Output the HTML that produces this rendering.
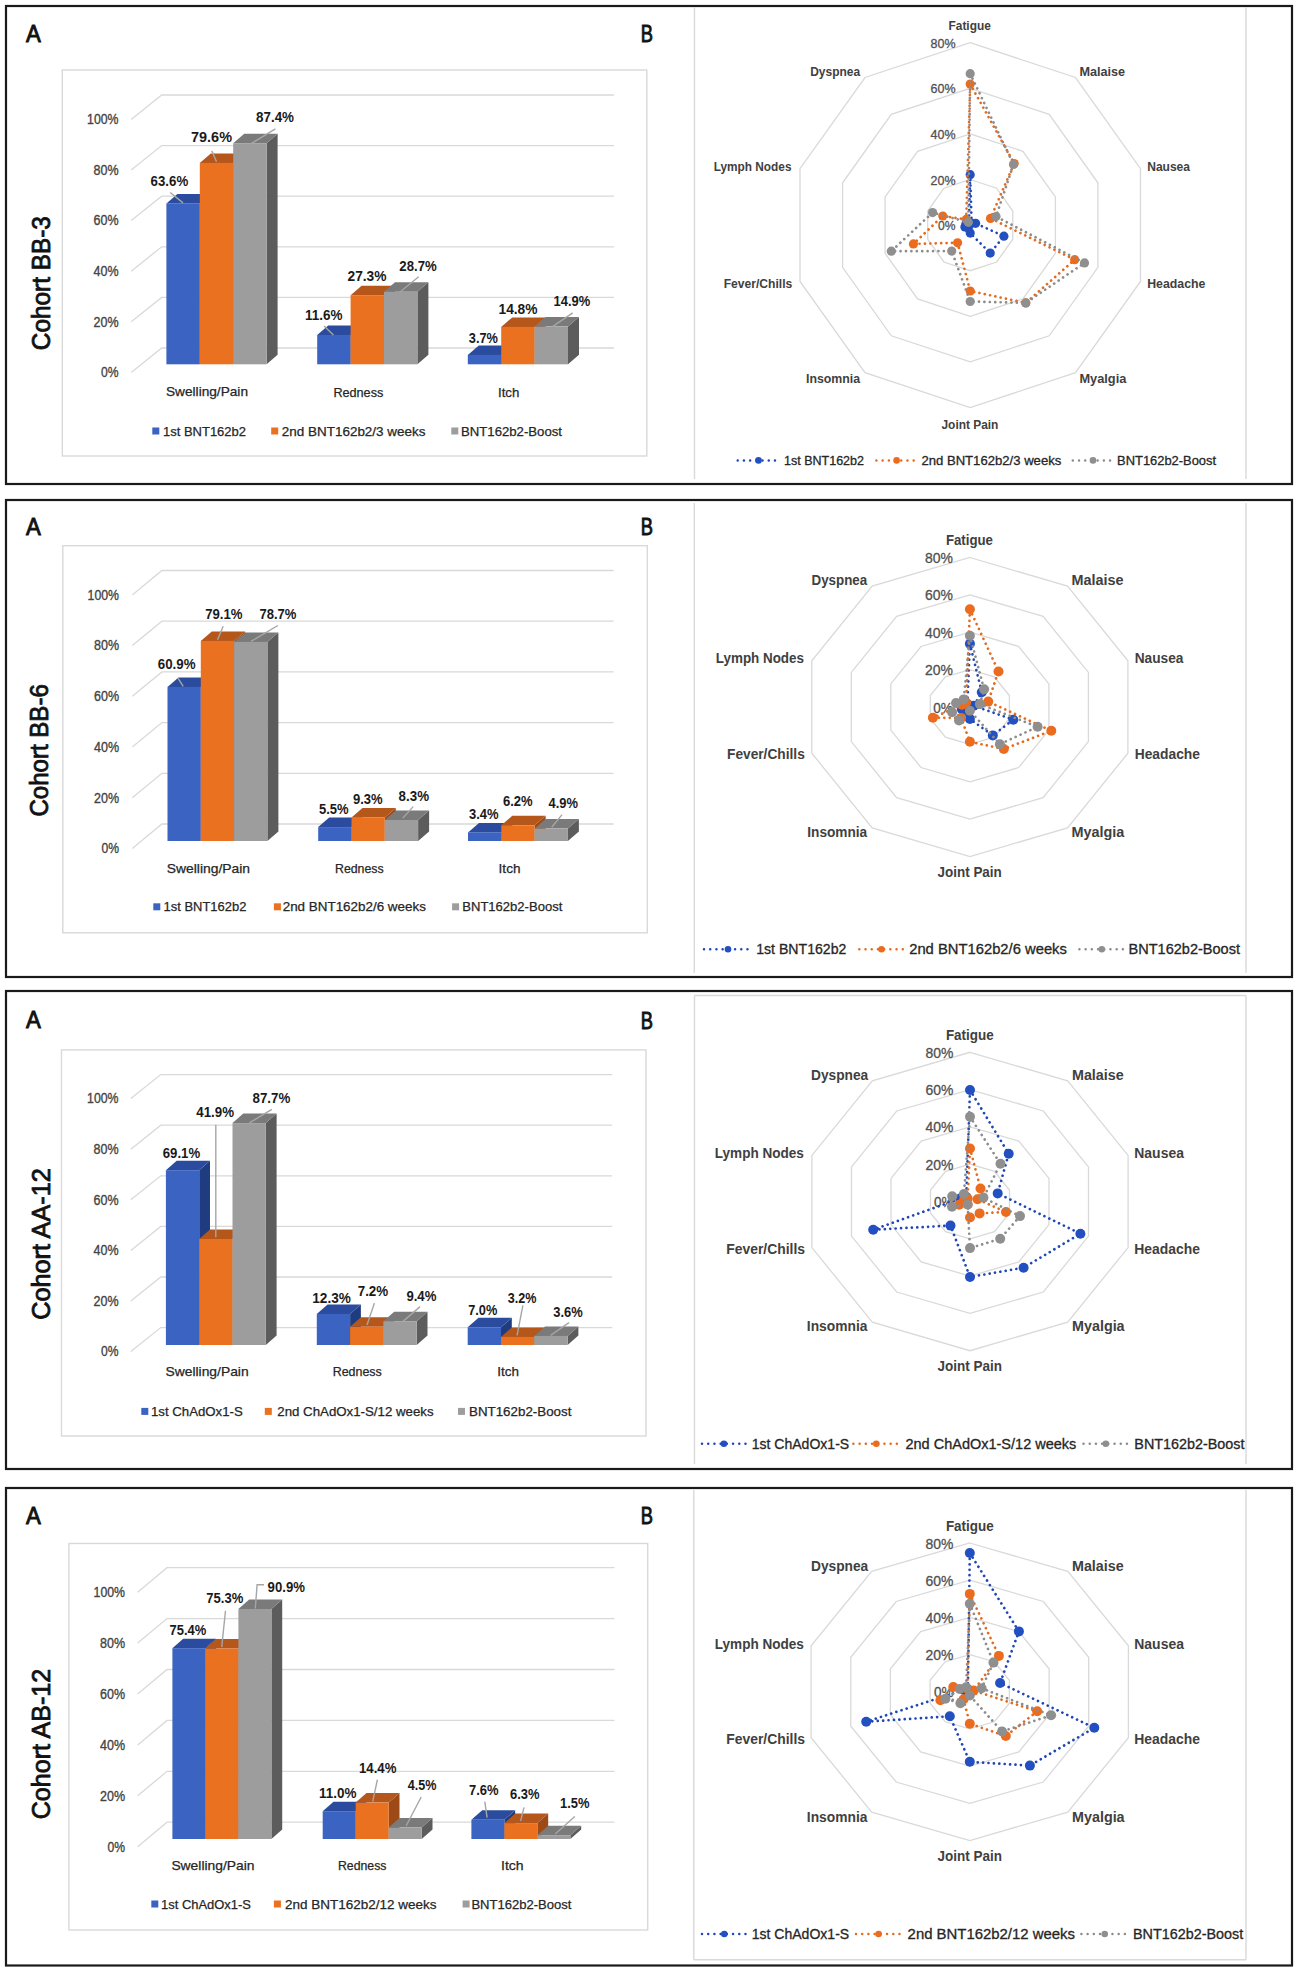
<!DOCTYPE html>
<html><head><meta charset="utf-8"><title>Figure</title>
<style>html,body{margin:0;padding:0;background:#fff;}svg{display:block;}text{font-family:"Liberation Sans",sans-serif;}</style>
</head><body>
<svg width="1298" height="1972" viewBox="0 0 1298 1972">
<rect x="0" y="0" width="1298" height="1972" fill="#fff"/>
<rect x="6" y="6.0" width="1286" height="478.0" fill="none" stroke="#1A1A1A" stroke-width="2.2"/>
<rect x="62.3" y="70.0" width="584.5" height="386.0" fill="none" stroke="#D9D9D9" stroke-width="1.4"/>
<line x1="694.5" y1="7.0" x2="694.5" y2="479.0" stroke="#D9D9D9" stroke-width="1.4"/>
<line x1="1246.0" y1="7.0" x2="1246.0" y2="479.0" stroke="#D9D9D9" stroke-width="1.4"/>
<text x="26.0" y="42.1" font-size="23.0" text-anchor="start" font-weight="normal" fill="#111" textLength="14.8" lengthAdjust="spacingAndGlyphs" stroke="#111" stroke-width="0.90">A</text>
<text x="640.8" y="41.9" font-size="23.0" text-anchor="start" font-weight="normal" fill="#111" textLength="12.2" lengthAdjust="spacingAndGlyphs" stroke="#111" stroke-width="0.90">B</text>
<polyline points="131.2,119.4 161.7,95.0 614.0,95.0" fill="none" stroke="#D9D9D9" stroke-width="1.3"/>
<text x="87.1" y="124.2" font-size="13.8" text-anchor="start" font-weight="normal" fill="#444444" textLength="31.4" lengthAdjust="spacingAndGlyphs" stroke="#444444" stroke-width="0.35">100%</text>
<polyline points="131.2,170.0 161.7,145.6 614.0,145.6" fill="none" stroke="#D9D9D9" stroke-width="1.3"/>
<text x="93.5" y="174.8" font-size="13.8" text-anchor="start" font-weight="normal" fill="#444444" textLength="25.0" lengthAdjust="spacingAndGlyphs" stroke="#444444" stroke-width="0.35">80%</text>
<polyline points="131.2,220.6 161.7,196.2 614.0,196.2" fill="none" stroke="#D9D9D9" stroke-width="1.3"/>
<text x="93.5" y="225.4" font-size="13.8" text-anchor="start" font-weight="normal" fill="#444444" textLength="25.0" lengthAdjust="spacingAndGlyphs" stroke="#444444" stroke-width="0.35">60%</text>
<polyline points="131.2,271.2 161.7,246.8 614.0,246.8" fill="none" stroke="#D9D9D9" stroke-width="1.3"/>
<text x="93.5" y="276.0" font-size="13.8" text-anchor="start" font-weight="normal" fill="#444444" textLength="25.0" lengthAdjust="spacingAndGlyphs" stroke="#444444" stroke-width="0.35">40%</text>
<polyline points="131.2,321.8 161.7,297.4 614.0,297.4" fill="none" stroke="#D9D9D9" stroke-width="1.3"/>
<text x="93.5" y="326.6" font-size="13.8" text-anchor="start" font-weight="normal" fill="#444444" textLength="25.0" lengthAdjust="spacingAndGlyphs" stroke="#444444" stroke-width="0.35">20%</text>
<polyline points="131.2,372.4 161.7,348.0 614.0,348.0" fill="none" stroke="#D9D9D9" stroke-width="1.3"/>
<text x="101.0" y="377.2" font-size="13.8" text-anchor="start" font-weight="normal" fill="#444444" textLength="17.5" lengthAdjust="spacingAndGlyphs" stroke="#444444" stroke-width="0.35">0%</text>
<polygon points="199.8,203.4 210.8,193.9 210.8,354.8 199.8,364.3" fill="#203C80"/>
<polygon points="166.4,203.4 177.4,193.9 210.8,193.9 199.8,203.4" fill="#2B4C9E"/>
<rect x="166.4" y="203.4" width="33.4" height="160.9" fill="#3A63C2"/>
<polygon points="233.2,162.9 244.2,153.4 244.2,354.8 233.2,364.3" fill="#9E4A16"/>
<polygon points="199.8,162.9 210.8,153.4 244.2,153.4 233.2,162.9" fill="#B5561B"/>
<rect x="199.8" y="162.9" width="33.4" height="201.4" fill="#E9711F"/>
<polygon points="266.6,143.2 277.6,133.7 277.6,354.8 266.6,364.3" fill="#5C5C5C"/>
<polygon points="233.2,143.2 244.2,133.7 277.6,133.7 266.6,143.2" fill="#7A7A7A"/>
<rect x="233.2" y="143.2" width="33.4" height="221.1" fill="#9D9D9D"/>
<polygon points="350.6,335.0 361.6,325.5 361.6,354.8 350.6,364.3" fill="#203C80"/>
<polygon points="317.2,335.0 328.2,325.5 361.6,325.5 350.6,335.0" fill="#2B4C9E"/>
<rect x="317.2" y="335.0" width="33.4" height="29.3" fill="#3A63C2"/>
<polygon points="384.0,295.2 395.0,285.7 395.0,354.8 384.0,364.3" fill="#9E4A16"/>
<polygon points="350.6,295.2 361.6,285.7 395.0,285.7 384.0,295.2" fill="#B5561B"/>
<rect x="350.6" y="295.2" width="33.4" height="69.1" fill="#E9711F"/>
<polygon points="417.4,291.7 428.4,282.2 428.4,354.8 417.4,364.3" fill="#5C5C5C"/>
<polygon points="384.0,291.7 395.0,282.2 428.4,282.2 417.4,291.7" fill="#7A7A7A"/>
<rect x="384.0" y="291.7" width="33.4" height="72.6" fill="#9D9D9D"/>
<polygon points="501.2,354.9 512.2,345.4 512.2,354.8 501.2,364.3" fill="#203C80"/>
<polygon points="467.8,354.9 478.8,345.4 512.2,345.4 501.2,354.9" fill="#2B4C9E"/>
<rect x="467.8" y="354.9" width="33.4" height="9.4" fill="#3A63C2"/>
<polygon points="534.6,326.9 545.6,317.4 545.6,354.8 534.6,364.3" fill="#9E4A16"/>
<polygon points="501.2,326.9 512.2,317.4 545.6,317.4 534.6,326.9" fill="#B5561B"/>
<rect x="501.2" y="326.9" width="33.4" height="37.4" fill="#E9711F"/>
<polygon points="568.0,326.6 579.0,317.1 579.0,354.8 568.0,364.3" fill="#5C5C5C"/>
<polygon points="534.6,326.6 545.6,317.1 579.0,317.1 568.0,326.6" fill="#7A7A7A"/>
<rect x="534.6" y="326.6" width="33.4" height="37.7" fill="#9D9D9D"/>
<polyline points="170.2,192.5 183.0,202.9" fill="none" stroke="#A6A6A6" stroke-width="1.4"/>
<polyline points="211.8,150.9 216.5,161.8" fill="none" stroke="#A6A6A6" stroke-width="1.4"/>
<polyline points="275.4,128.9 250.6,143.9" fill="none" stroke="#A6A6A6" stroke-width="1.4"/>
<polyline points="324.1,326.0 333.4,335.0" fill="none" stroke="#A6A6A6" stroke-width="1.4"/>
<polyline points="418.7,276.8 400.0,292.0" fill="none" stroke="#A6A6A6" stroke-width="1.4"/>
<polyline points="572.7,312.8 552.5,326.6" fill="none" stroke="#A6A6A6" stroke-width="1.4"/>
<text x="150.6" y="185.6" font-size="14.6" text-anchor="start" font-weight="bold" fill="#1A1A1A" textLength="37.6" lengthAdjust="spacingAndGlyphs">63.6%</text>
<text x="191.0" y="142.0" font-size="14.6" text-anchor="start" font-weight="bold" fill="#1A1A1A" textLength="41.0" lengthAdjust="spacingAndGlyphs">79.6%</text>
<text x="256.0" y="122.3" font-size="14.6" text-anchor="start" font-weight="bold" fill="#1A1A1A" textLength="38.0" lengthAdjust="spacingAndGlyphs">87.4%</text>
<text x="305.0" y="319.5" font-size="14.6" text-anchor="start" font-weight="bold" fill="#1A1A1A" textLength="37.5" lengthAdjust="spacingAndGlyphs">11.6%</text>
<text x="347.5" y="281.4" font-size="14.6" text-anchor="start" font-weight="bold" fill="#1A1A1A" textLength="39.0" lengthAdjust="spacingAndGlyphs">27.3%</text>
<text x="399.3" y="270.6" font-size="14.6" text-anchor="start" font-weight="bold" fill="#1A1A1A" textLength="37.4" lengthAdjust="spacingAndGlyphs">28.7%</text>
<text x="468.8" y="342.5" font-size="14.6" text-anchor="start" font-weight="bold" fill="#1A1A1A" textLength="29.1" lengthAdjust="spacingAndGlyphs">3.7%</text>
<text x="498.5" y="313.6" font-size="14.6" text-anchor="start" font-weight="bold" fill="#1A1A1A" textLength="39.0" lengthAdjust="spacingAndGlyphs">14.8%</text>
<text x="553.5" y="306.0" font-size="14.6" text-anchor="start" font-weight="bold" fill="#1A1A1A" textLength="36.7" lengthAdjust="spacingAndGlyphs">14.9%</text>
<text x="166.0" y="396.2" font-size="13.0" text-anchor="start" font-weight="normal" fill="#262626" textLength="82.0" lengthAdjust="spacingAndGlyphs" stroke="#262626" stroke-width="0.25">Swelling/Pain</text>
<text x="333.4" y="396.8" font-size="13.0" text-anchor="start" font-weight="normal" fill="#262626" textLength="49.9" lengthAdjust="spacingAndGlyphs" stroke="#262626" stroke-width="0.25">Redness</text>
<text x="498.0" y="396.8" font-size="13.0" text-anchor="start" font-weight="normal" fill="#262626" textLength="21.3" lengthAdjust="spacingAndGlyphs" stroke="#262626" stroke-width="0.25">Itch</text>
<rect x="152.3" y="427.5" width="7" height="7" fill="#3A63C2"/>
<text x="163.0" y="435.5" font-size="13.0" text-anchor="start" font-weight="normal" fill="#262626" textLength="83.0" lengthAdjust="spacingAndGlyphs" stroke="#262626" stroke-width="0.25">1st BNT162b2</text>
<rect x="271.2" y="427.5" width="7" height="7" fill="#E9711F"/>
<text x="281.8" y="435.5" font-size="13.0" text-anchor="start" font-weight="normal" fill="#262626" textLength="143.7" lengthAdjust="spacingAndGlyphs" stroke="#262626" stroke-width="0.25">2nd BNT162b2/3 weeks</text>
<rect x="451.3" y="427.5" width="7" height="7" fill="#9D9D9D"/>
<text x="461.0" y="435.5" font-size="13.0" text-anchor="start" font-weight="normal" fill="#262626" textLength="101.0" lengthAdjust="spacingAndGlyphs" stroke="#262626" stroke-width="0.25">BNT162b2-Boost</text>
<text transform="translate(50.4,283.2) rotate(-90)" font-size="25" text-anchor="middle" fill="#111" stroke="#111" stroke-width="0.8" textLength="134.0" lengthAdjust="spacingAndGlyphs">Cohort BB-3</text>
<polygon points="970.2,179.5 996.6,188.2 1012.8,211.0 1012.8,239.2 996.6,262.0 970.2,270.7 943.9,262.0 927.7,239.2 927.7,211.0 943.9,188.2" fill="none" stroke="#D9D9D9" stroke-width="1.3"/>
<polygon points="970.2,133.9 1022.9,151.3 1055.4,196.9 1055.4,253.3 1022.9,298.9 970.2,316.3 917.6,298.9 885.1,253.3 885.1,196.9 917.6,151.3" fill="none" stroke="#D9D9D9" stroke-width="1.3"/>
<polygon points="970.2,88.3 1049.2,114.4 1097.9,182.8 1097.9,267.4 1049.2,335.8 970.2,361.9 891.3,335.8 842.6,267.4 842.6,182.8 891.3,114.4" fill="none" stroke="#D9D9D9" stroke-width="1.3"/>
<polygon points="970.2,42.7 1075.5,77.5 1140.5,168.7 1140.5,281.5 1075.5,372.7 970.2,407.5 865.0,372.7 800.0,281.5 800.0,168.7 865.0,77.5" fill="none" stroke="#D9D9D9" stroke-width="1.3"/>
<text x="938.0" y="230.1" font-size="13.0" text-anchor="start" font-weight="normal" fill="#505050" textLength="17.5" lengthAdjust="spacingAndGlyphs" stroke="#505050" stroke-width="0.30">0%</text>
<text x="930.5" y="184.5" font-size="13.0" text-anchor="start" font-weight="normal" fill="#505050" textLength="25.0" lengthAdjust="spacingAndGlyphs" stroke="#505050" stroke-width="0.30">20%</text>
<text x="930.5" y="138.9" font-size="13.0" text-anchor="start" font-weight="normal" fill="#505050" textLength="25.0" lengthAdjust="spacingAndGlyphs" stroke="#505050" stroke-width="0.30">40%</text>
<text x="930.5" y="93.3" font-size="13.0" text-anchor="start" font-weight="normal" fill="#505050" textLength="25.0" lengthAdjust="spacingAndGlyphs" stroke="#505050" stroke-width="0.30">60%</text>
<text x="930.5" y="47.7" font-size="13.0" text-anchor="start" font-weight="normal" fill="#505050" textLength="25.0" lengthAdjust="spacingAndGlyphs" stroke="#505050" stroke-width="0.30">80%</text>
<text x="948.5" y="29.8" font-size="13.0" text-anchor="start" font-weight="bold" fill="#404040" textLength="42.3" lengthAdjust="spacingAndGlyphs">Fatigue</text>
<text x="1079.4" y="75.6" font-size="13.0" text-anchor="start" font-weight="bold" fill="#404040" textLength="45.7" lengthAdjust="spacingAndGlyphs">Malaise</text>
<text x="1147.2" y="171.3" font-size="13.0" text-anchor="start" font-weight="bold" fill="#404040" textLength="42.8" lengthAdjust="spacingAndGlyphs">Nausea</text>
<text x="1147.2" y="287.8" font-size="13.0" text-anchor="start" font-weight="bold" fill="#404040" textLength="58.2" lengthAdjust="spacingAndGlyphs">Headache</text>
<text x="1079.4" y="382.6" font-size="13.0" text-anchor="start" font-weight="bold" fill="#404040" textLength="47.0" lengthAdjust="spacingAndGlyphs">Myalgia</text>
<text x="941.5" y="429.0" font-size="13.0" text-anchor="start" font-weight="bold" fill="#404040" textLength="56.9" lengthAdjust="spacingAndGlyphs">Joint Pain</text>
<text x="806.0" y="382.6" font-size="13.0" text-anchor="start" font-weight="bold" fill="#404040" textLength="54.1" lengthAdjust="spacingAndGlyphs">Insomnia</text>
<text x="723.7" y="287.8" font-size="13.0" text-anchor="start" font-weight="bold" fill="#404040" textLength="68.6" lengthAdjust="spacingAndGlyphs">Fever/Chills</text>
<text x="713.7" y="171.3" font-size="13.0" text-anchor="start" font-weight="bold" fill="#404040" textLength="77.8" lengthAdjust="spacingAndGlyphs">Lymph Nodes</text>
<text x="810.2" y="75.6" font-size="13.0" text-anchor="start" font-weight="bold" fill="#404040" textLength="49.9" lengthAdjust="spacingAndGlyphs">Dyspnea</text>
<polygon points="970.2,174.7 971.6,223.3 975.6,223.3 1003.9,236.2 990.2,253.1 970.2,233.1 968.3,227.9 964.9,226.9 966.0,223.7 968.9,223.3" fill="none" stroke="#1F46B4" stroke-width="2.7" stroke-dasharray="0.01 5.4" stroke-linecap="round" stroke-linejoin="round"/>
<circle cx="970.2" cy="174.7" r="4.6" fill="#2250C0"/>
<circle cx="971.6" cy="223.3" r="4.6" fill="#2250C0"/>
<circle cx="975.6" cy="223.3" r="4.6" fill="#2250C0"/>
<circle cx="1003.9" cy="236.2" r="4.6" fill="#2250C0"/>
<circle cx="990.2" cy="253.1" r="4.6" fill="#2250C0"/>
<circle cx="970.2" cy="233.1" r="4.6" fill="#2250C0"/>
<circle cx="968.3" cy="227.9" r="4.6" fill="#2250C0"/>
<circle cx="964.9" cy="226.9" r="4.6" fill="#2250C0"/>
<circle cx="966.0" cy="223.7" r="4.6" fill="#2250C0"/>
<circle cx="968.9" cy="223.3" r="4.6" fill="#2250C0"/>
<polygon points="970.2,84.0 1014.2,163.5 990.5,218.4 1074.7,259.7 1025.8,302.9 970.2,291.0 957.6,242.8 913.4,243.9 942.8,216.0 966.2,219.4" fill="none" stroke="#E36A1E" stroke-width="2.7" stroke-dasharray="0.01 5.4" stroke-linecap="round" stroke-linejoin="round"/>
<circle cx="970.2" cy="84.0" r="4.6" fill="#EB6C1E"/>
<circle cx="1014.2" cy="163.5" r="4.6" fill="#EB6C1E"/>
<circle cx="990.5" cy="218.4" r="4.6" fill="#EB6C1E"/>
<circle cx="1074.7" cy="259.7" r="4.6" fill="#EB6C1E"/>
<circle cx="1025.8" cy="302.9" r="4.6" fill="#EB6C1E"/>
<circle cx="970.2" cy="291.0" r="4.6" fill="#EB6C1E"/>
<circle cx="957.6" cy="242.8" r="4.6" fill="#EB6C1E"/>
<circle cx="913.4" cy="243.9" r="4.6" fill="#EB6C1E"/>
<circle cx="942.8" cy="216.0" r="4.6" fill="#EB6C1E"/>
<circle cx="966.2" cy="219.4" r="4.6" fill="#EB6C1E"/>
<polygon points="970.2,73.7 1013.5,164.4 996.0,216.6 1084.5,262.9 1025.8,302.9 970.2,301.5 951.7,251.1 891.3,251.2 932.6,212.6 968.3,222.3" fill="none" stroke="#8C8C8C" stroke-width="2.7" stroke-dasharray="0.01 5.4" stroke-linecap="round" stroke-linejoin="round"/>
<circle cx="970.2" cy="73.7" r="4.6" fill="#8F8F8F"/>
<circle cx="1013.5" cy="164.4" r="4.6" fill="#8F8F8F"/>
<circle cx="996.0" cy="216.6" r="4.6" fill="#8F8F8F"/>
<circle cx="1084.5" cy="262.9" r="4.6" fill="#8F8F8F"/>
<circle cx="1025.8" cy="302.9" r="4.6" fill="#8F8F8F"/>
<circle cx="970.2" cy="301.5" r="4.6" fill="#8F8F8F"/>
<circle cx="951.7" cy="251.1" r="4.6" fill="#8F8F8F"/>
<circle cx="891.3" cy="251.2" r="4.6" fill="#8F8F8F"/>
<circle cx="932.6" cy="212.6" r="4.6" fill="#8F8F8F"/>
<circle cx="968.3" cy="222.3" r="4.6" fill="#8F8F8F"/>
<line x1="737.7" y1="460.4" x2="779.3" y2="460.4" stroke="#1F46B4" stroke-width="2.5" stroke-dasharray="0.01 6.2" stroke-linecap="round"/>
<circle cx="758.5" cy="460.4" r="3.3" fill="#2250C0"/>
<text x="784.0" y="464.9" font-size="13.0" text-anchor="start" font-weight="normal" fill="#262626" textLength="80.0" lengthAdjust="spacingAndGlyphs" stroke="#262626" stroke-width="0.30">1st BNT162b2</text>
<line x1="876.4" y1="460.4" x2="916.8" y2="460.4" stroke="#E36A1E" stroke-width="2.5" stroke-dasharray="0.01 6.2" stroke-linecap="round"/>
<circle cx="896.6" cy="460.4" r="3.3" fill="#EB6C1E"/>
<text x="921.4" y="464.9" font-size="13.0" text-anchor="start" font-weight="normal" fill="#262626" textLength="139.9" lengthAdjust="spacingAndGlyphs" stroke="#262626" stroke-width="0.30">2nd BNT162b2/3 weeks</text>
<line x1="1072.8" y1="460.4" x2="1113.3" y2="460.4" stroke="#8C8C8C" stroke-width="2.5" stroke-dasharray="0.01 6.2" stroke-linecap="round"/>
<circle cx="1093.0" cy="460.4" r="3.3" fill="#8F8F8F"/>
<text x="1117.1" y="464.9" font-size="13.0" text-anchor="start" font-weight="normal" fill="#262626" textLength="99.0" lengthAdjust="spacingAndGlyphs" stroke="#262626" stroke-width="0.30">BNT162b2-Boost</text>
<rect x="6" y="500.0" width="1286" height="477.0" fill="none" stroke="#1A1A1A" stroke-width="2.2"/>
<rect x="62.8" y="545.7" width="584.5" height="387.1" fill="none" stroke="#D9D9D9" stroke-width="1.4"/>
<line x1="694.3" y1="503.0" x2="694.3" y2="972.8" stroke="#D9D9D9" stroke-width="1.4"/>
<line x1="1246.0" y1="503.0" x2="1246.0" y2="972.8" stroke="#D9D9D9" stroke-width="1.4"/>
<text x="26.0" y="535.0" font-size="23.0" text-anchor="start" font-weight="normal" fill="#111" textLength="14.8" lengthAdjust="spacingAndGlyphs" stroke="#111" stroke-width="0.90">A</text>
<text x="640.8" y="535.1" font-size="23.0" text-anchor="start" font-weight="normal" fill="#111" textLength="12.2" lengthAdjust="spacingAndGlyphs" stroke="#111" stroke-width="0.90">B</text>
<polyline points="132.3,594.9 161.9,570.5 613.6,570.5" fill="none" stroke="#D9D9D9" stroke-width="1.3"/>
<text x="87.6" y="599.7" font-size="13.8" text-anchor="start" font-weight="normal" fill="#444444" textLength="31.4" lengthAdjust="spacingAndGlyphs" stroke="#444444" stroke-width="0.35">100%</text>
<polyline points="132.3,645.6 161.9,621.2 613.6,621.2" fill="none" stroke="#D9D9D9" stroke-width="1.3"/>
<text x="94.0" y="650.4" font-size="13.8" text-anchor="start" font-weight="normal" fill="#444444" textLength="25.0" lengthAdjust="spacingAndGlyphs" stroke="#444444" stroke-width="0.35">80%</text>
<polyline points="132.3,696.3 161.9,671.9 613.6,671.9" fill="none" stroke="#D9D9D9" stroke-width="1.3"/>
<text x="94.0" y="701.1" font-size="13.8" text-anchor="start" font-weight="normal" fill="#444444" textLength="25.0" lengthAdjust="spacingAndGlyphs" stroke="#444444" stroke-width="0.35">60%</text>
<polyline points="132.3,747.0 161.9,722.6 613.6,722.6" fill="none" stroke="#D9D9D9" stroke-width="1.3"/>
<text x="94.0" y="751.8" font-size="13.8" text-anchor="start" font-weight="normal" fill="#444444" textLength="25.0" lengthAdjust="spacingAndGlyphs" stroke="#444444" stroke-width="0.35">40%</text>
<polyline points="132.3,797.7 161.9,773.3 613.6,773.3" fill="none" stroke="#D9D9D9" stroke-width="1.3"/>
<text x="94.0" y="802.5" font-size="13.8" text-anchor="start" font-weight="normal" fill="#444444" textLength="25.0" lengthAdjust="spacingAndGlyphs" stroke="#444444" stroke-width="0.35">20%</text>
<polyline points="132.3,848.4 161.9,824.0 613.6,824.0" fill="none" stroke="#D9D9D9" stroke-width="1.3"/>
<text x="101.5" y="853.2" font-size="13.8" text-anchor="start" font-weight="normal" fill="#444444" textLength="17.5" lengthAdjust="spacingAndGlyphs" stroke="#444444" stroke-width="0.35">0%</text>
<polygon points="200.8,686.9 211.8,677.4 211.8,831.5 200.8,841.0" fill="#203C80"/>
<polygon points="167.5,686.9 178.5,677.4 211.8,677.4 200.8,686.9" fill="#2B4C9E"/>
<rect x="167.5" y="686.9" width="33.3" height="154.1" fill="#3A63C2"/>
<polygon points="234.1,640.9 245.1,631.4 245.1,831.5 234.1,841.0" fill="#9E4A16"/>
<polygon points="200.8,640.9 211.8,631.4 245.1,631.4 234.1,640.9" fill="#B5561B"/>
<rect x="200.8" y="640.9" width="33.3" height="200.1" fill="#E9711F"/>
<polygon points="267.4,641.9 278.4,632.4 278.4,831.5 267.4,841.0" fill="#5C5C5C"/>
<polygon points="234.1,641.9 245.1,632.4 278.4,632.4 267.4,641.9" fill="#7A7A7A"/>
<rect x="234.1" y="641.9" width="33.3" height="199.1" fill="#9D9D9D"/>
<polygon points="351.5,827.1 362.5,817.6 362.5,831.5 351.5,841.0" fill="#203C80"/>
<polygon points="318.2,827.1 329.2,817.6 362.5,817.6 351.5,827.1" fill="#2B4C9E"/>
<rect x="318.2" y="827.1" width="33.3" height="13.9" fill="#3A63C2"/>
<polygon points="384.8,817.5 395.8,808.0 395.8,831.5 384.8,841.0" fill="#9E4A16"/>
<polygon points="351.5,817.5 362.5,808.0 395.8,808.0 384.8,817.5" fill="#B5561B"/>
<rect x="351.5" y="817.5" width="33.3" height="23.5" fill="#E9711F"/>
<polygon points="418.1,820.0 429.1,810.5 429.1,831.5 418.1,841.0" fill="#5C5C5C"/>
<polygon points="384.8,820.0 395.8,810.5 429.1,810.5 418.1,820.0" fill="#7A7A7A"/>
<rect x="384.8" y="820.0" width="33.3" height="21.0" fill="#9D9D9D"/>
<polygon points="501.3,832.4 512.3,822.9 512.3,831.5 501.3,841.0" fill="#203C80"/>
<polygon points="468.0,832.4 479.0,822.9 512.3,822.9 501.3,832.4" fill="#2B4C9E"/>
<rect x="468.0" y="832.4" width="33.3" height="8.6" fill="#3A63C2"/>
<polygon points="534.6,825.3 545.6,815.8 545.6,831.5 534.6,841.0" fill="#9E4A16"/>
<polygon points="501.3,825.3 512.3,815.8 545.6,815.8 534.6,825.3" fill="#B5561B"/>
<rect x="501.3" y="825.3" width="33.3" height="15.7" fill="#E9711F"/>
<polygon points="567.9,828.6 578.9,819.1 578.9,831.5 567.9,841.0" fill="#5C5C5C"/>
<polygon points="534.6,828.6 545.6,819.1 578.9,819.1 567.9,828.6" fill="#7A7A7A"/>
<rect x="534.6" y="828.6" width="33.3" height="12.4" fill="#9D9D9D"/>
<polyline points="177.8,677.9 183.2,686.3" fill="none" stroke="#A6A6A6" stroke-width="1.4"/>
<polyline points="223.2,626.3 217.5,639.8" fill="none" stroke="#A6A6A6" stroke-width="1.4"/>
<polyline points="277.9,625.5 251.0,641.4" fill="none" stroke="#A6A6A6" stroke-width="1.4"/>
<polyline points="413.2,806.6 402.8,818.1" fill="none" stroke="#A6A6A6" stroke-width="1.4"/>
<polyline points="562.1,814.6 551.7,827.3" fill="none" stroke="#A6A6A6" stroke-width="1.4"/>
<text x="157.8" y="668.6" font-size="14.6" text-anchor="start" font-weight="bold" fill="#1A1A1A" textLength="37.7" lengthAdjust="spacingAndGlyphs">60.9%</text>
<text x="205.2" y="619.2" font-size="14.6" text-anchor="start" font-weight="bold" fill="#1A1A1A" textLength="37.3" lengthAdjust="spacingAndGlyphs">79.1%</text>
<text x="259.4" y="619.2" font-size="14.6" text-anchor="start" font-weight="bold" fill="#1A1A1A" textLength="37.0" lengthAdjust="spacingAndGlyphs">78.7%</text>
<text x="319.0" y="814.0" font-size="14.6" text-anchor="start" font-weight="bold" fill="#1A1A1A" textLength="29.6" lengthAdjust="spacingAndGlyphs">5.5%</text>
<text x="353.0" y="804.0" font-size="14.6" text-anchor="start" font-weight="bold" fill="#1A1A1A" textLength="29.7" lengthAdjust="spacingAndGlyphs">9.3%</text>
<text x="398.6" y="800.5" font-size="14.6" text-anchor="start" font-weight="bold" fill="#1A1A1A" textLength="30.4" lengthAdjust="spacingAndGlyphs">8.3%</text>
<text x="469.0" y="818.6" font-size="14.6" text-anchor="start" font-weight="bold" fill="#1A1A1A" textLength="29.6" lengthAdjust="spacingAndGlyphs">3.4%</text>
<text x="503.0" y="806.0" font-size="14.6" text-anchor="start" font-weight="bold" fill="#1A1A1A" textLength="29.7" lengthAdjust="spacingAndGlyphs">6.2%</text>
<text x="548.6" y="808.0" font-size="14.6" text-anchor="start" font-weight="bold" fill="#1A1A1A" textLength="29.4" lengthAdjust="spacingAndGlyphs">4.9%</text>
<text x="166.8" y="872.7" font-size="13.0" text-anchor="start" font-weight="normal" fill="#262626" textLength="83.2" lengthAdjust="spacingAndGlyphs" stroke="#262626" stroke-width="0.25">Swelling/Pain</text>
<text x="335.0" y="872.7" font-size="13.0" text-anchor="start" font-weight="normal" fill="#262626" textLength="48.6" lengthAdjust="spacingAndGlyphs" stroke="#262626" stroke-width="0.25">Redness</text>
<text x="498.6" y="872.7" font-size="13.0" text-anchor="start" font-weight="normal" fill="#262626" textLength="21.9" lengthAdjust="spacingAndGlyphs" stroke="#262626" stroke-width="0.25">Itch</text>
<rect x="153.3" y="903.3" width="7" height="7" fill="#3A63C2"/>
<text x="163.6" y="911.3" font-size="13.0" text-anchor="start" font-weight="normal" fill="#262626" textLength="82.8" lengthAdjust="spacingAndGlyphs" stroke="#262626" stroke-width="0.25">1st BNT162b2</text>
<rect x="273.9" y="903.3" width="7" height="7" fill="#E9711F"/>
<text x="282.7" y="911.3" font-size="13.0" text-anchor="start" font-weight="normal" fill="#262626" textLength="143.2" lengthAdjust="spacingAndGlyphs" stroke="#262626" stroke-width="0.25">2nd BNT162b2/6 weeks</text>
<rect x="452.1" y="903.3" width="7" height="7" fill="#9D9D9D"/>
<text x="462.3" y="911.3" font-size="13.0" text-anchor="start" font-weight="normal" fill="#262626" textLength="100.0" lengthAdjust="spacingAndGlyphs" stroke="#262626" stroke-width="0.25">BNT162b2-Boost</text>
<text transform="translate(48.2,750.4) rotate(-90)" font-size="25" text-anchor="middle" fill="#111" stroke="#111" stroke-width="0.8" textLength="132.4" lengthAdjust="spacingAndGlyphs">Cohort BB-6</text>
<polygon points="969.9,669.6 994.3,676.8 1009.4,695.5 1009.4,718.5 994.3,737.2 969.9,744.4 945.4,737.2 930.3,718.5 930.3,695.5 945.4,676.8" fill="none" stroke="#D9D9D9" stroke-width="1.3"/>
<polygon points="969.9,632.2 1018.7,646.5 1048.9,683.9 1048.9,730.1 1018.7,767.5 969.9,781.8 921.0,767.5 890.8,730.1 890.8,683.9 921.0,646.5" fill="none" stroke="#D9D9D9" stroke-width="1.3"/>
<polygon points="969.9,594.9 1043.1,616.3 1088.4,672.4 1088.4,741.6 1043.1,797.7 969.9,819.1 896.6,797.7 851.3,741.6 851.3,672.4 896.6,616.3" fill="none" stroke="#D9D9D9" stroke-width="1.3"/>
<polygon points="969.9,557.5 1067.5,586.1 1127.9,660.8 1127.9,753.2 1067.5,827.9 969.9,856.5 872.2,827.9 811.8,753.2 811.8,660.8 872.2,586.1" fill="none" stroke="#D9D9D9" stroke-width="1.3"/>
<text x="933.3" y="712.5" font-size="14.5" text-anchor="start" font-weight="normal" fill="#505050" textLength="19.5" lengthAdjust="spacingAndGlyphs" stroke="#505050" stroke-width="0.30">0%</text>
<text x="924.9" y="675.1" font-size="14.5" text-anchor="start" font-weight="normal" fill="#505050" textLength="27.9" lengthAdjust="spacingAndGlyphs" stroke="#505050" stroke-width="0.30">20%</text>
<text x="924.9" y="637.8" font-size="14.5" text-anchor="start" font-weight="normal" fill="#505050" textLength="27.9" lengthAdjust="spacingAndGlyphs" stroke="#505050" stroke-width="0.30">40%</text>
<text x="924.9" y="600.4" font-size="14.5" text-anchor="start" font-weight="normal" fill="#505050" textLength="27.9" lengthAdjust="spacingAndGlyphs" stroke="#505050" stroke-width="0.30">60%</text>
<text x="924.9" y="563.0" font-size="14.5" text-anchor="start" font-weight="normal" fill="#505050" textLength="27.9" lengthAdjust="spacingAndGlyphs" stroke="#505050" stroke-width="0.30">80%</text>
<text x="945.9" y="544.6" font-size="14.5" text-anchor="start" font-weight="bold" fill="#404040" textLength="47.1" lengthAdjust="spacingAndGlyphs">Fatigue</text>
<text x="1071.5" y="584.5" font-size="14.5" text-anchor="start" font-weight="bold" fill="#404040" textLength="52.0" lengthAdjust="spacingAndGlyphs">Malaise</text>
<text x="1134.7" y="663.1" font-size="14.5" text-anchor="start" font-weight="bold" fill="#404040" textLength="48.7" lengthAdjust="spacingAndGlyphs">Nausea</text>
<text x="1134.7" y="759.2" font-size="14.5" text-anchor="start" font-weight="bold" fill="#404040" textLength="65.3" lengthAdjust="spacingAndGlyphs">Headache</text>
<text x="1071.5" y="837.0" font-size="14.5" text-anchor="start" font-weight="bold" fill="#404040" textLength="52.8" lengthAdjust="spacingAndGlyphs">Myalgia</text>
<text x="937.6" y="877.3" font-size="14.5" text-anchor="start" font-weight="bold" fill="#404040" textLength="64.2" lengthAdjust="spacingAndGlyphs">Joint Pain</text>
<text x="807.3" y="837.0" font-size="14.5" text-anchor="start" font-weight="bold" fill="#404040" textLength="59.9" lengthAdjust="spacingAndGlyphs">Insomnia</text>
<text x="727.0" y="759.2" font-size="14.5" text-anchor="start" font-weight="bold" fill="#404040" textLength="77.8" lengthAdjust="spacingAndGlyphs">Fever/Chills</text>
<text x="715.8" y="663.1" font-size="14.5" text-anchor="start" font-weight="bold" fill="#404040" textLength="88.2" lengthAdjust="spacingAndGlyphs">Lymph Nodes</text>
<text x="811.5" y="584.5" font-size="14.5" text-anchor="start" font-weight="bold" fill="#404040" textLength="55.7" lengthAdjust="spacingAndGlyphs">Dyspnea</text>
<polygon points="969.9,643.8 981.8,692.2 973.8,705.8 1013.3,719.7 992.8,735.4 969.9,719.0 966.2,711.5 961.9,709.3 963.9,705.3 967.4,704.0" fill="none" stroke="#1F46B4" stroke-width="2.7" stroke-dasharray="0.01 5.4" stroke-linecap="round" stroke-linejoin="round"/>
<circle cx="969.9" cy="643.8" r="5.0" fill="#2250C0"/>
<circle cx="981.8" cy="692.2" r="5.0" fill="#2250C0"/>
<circle cx="973.8" cy="705.8" r="5.0" fill="#2250C0"/>
<circle cx="1013.3" cy="719.7" r="5.0" fill="#2250C0"/>
<circle cx="992.8" cy="735.4" r="5.0" fill="#2250C0"/>
<circle cx="969.9" cy="719.0" r="5.0" fill="#2250C0"/>
<circle cx="966.2" cy="711.5" r="5.0" fill="#2250C0"/>
<circle cx="961.9" cy="709.3" r="5.0" fill="#2250C0"/>
<circle cx="963.9" cy="705.3" r="5.0" fill="#2250C0"/>
<circle cx="967.4" cy="704.0" r="5.0" fill="#2250C0"/>
<polygon points="969.9,609.3 998.5,671.5 988.2,701.6 1051.3,730.8 1003.8,749.0 969.9,741.8 961.1,717.9 932.9,717.8 961.9,704.7 966.2,702.5" fill="none" stroke="#E36A1E" stroke-width="2.7" stroke-dasharray="0.01 5.4" stroke-linecap="round" stroke-linejoin="round"/>
<circle cx="969.9" cy="609.3" r="5.0" fill="#EB6C1E"/>
<circle cx="998.5" cy="671.5" r="5.0" fill="#EB6C1E"/>
<circle cx="988.2" cy="701.6" r="5.0" fill="#EB6C1E"/>
<circle cx="1051.3" cy="730.8" r="5.0" fill="#EB6C1E"/>
<circle cx="1003.8" cy="749.0" r="5.0" fill="#EB6C1E"/>
<circle cx="969.9" cy="741.8" r="5.0" fill="#EB6C1E"/>
<circle cx="961.1" cy="717.9" r="5.0" fill="#EB6C1E"/>
<circle cx="932.9" cy="717.8" r="5.0" fill="#EB6C1E"/>
<circle cx="961.9" cy="704.7" r="5.0" fill="#EB6C1E"/>
<circle cx="966.2" cy="702.5" r="5.0" fill="#EB6C1E"/>
<polygon points="969.9,635.8 984.1,689.3 979.9,704.1 1037.6,726.8 999.9,744.2 969.9,710.7 959.0,720.5 952.1,712.2 956.0,703.0 963.7,699.4" fill="none" stroke="#8C8C8C" stroke-width="2.7" stroke-dasharray="0.01 5.4" stroke-linecap="round" stroke-linejoin="round"/>
<circle cx="969.9" cy="635.8" r="5.0" fill="#8F8F8F"/>
<circle cx="984.1" cy="689.3" r="5.0" fill="#8F8F8F"/>
<circle cx="979.9" cy="704.1" r="5.0" fill="#8F8F8F"/>
<circle cx="1037.6" cy="726.8" r="5.0" fill="#8F8F8F"/>
<circle cx="999.9" cy="744.2" r="5.0" fill="#8F8F8F"/>
<circle cx="969.9" cy="710.7" r="5.0" fill="#8F8F8F"/>
<circle cx="959.0" cy="720.5" r="5.0" fill="#8F8F8F"/>
<circle cx="952.1" cy="712.2" r="5.0" fill="#8F8F8F"/>
<circle cx="956.0" cy="703.0" r="5.0" fill="#8F8F8F"/>
<circle cx="963.7" cy="699.4" r="5.0" fill="#8F8F8F"/>
<line x1="704.0" y1="949.3" x2="752.0" y2="949.3" stroke="#1F46B4" stroke-width="2.5" stroke-dasharray="0.01 6.2" stroke-linecap="round"/>
<circle cx="728.0" cy="949.3" r="3.3" fill="#2250C0"/>
<text x="756.2" y="954.3" font-size="14.5" text-anchor="start" font-weight="normal" fill="#262626" textLength="90.2" lengthAdjust="spacingAndGlyphs" stroke="#262626" stroke-width="0.30">1st BNT162b2</text>
<line x1="859.3" y1="949.3" x2="903.8" y2="949.3" stroke="#E36A1E" stroke-width="2.5" stroke-dasharray="0.01 6.2" stroke-linecap="round"/>
<circle cx="881.5" cy="949.3" r="3.3" fill="#EB6C1E"/>
<text x="909.2" y="954.3" font-size="14.5" text-anchor="start" font-weight="normal" fill="#262626" textLength="157.7" lengthAdjust="spacingAndGlyphs" stroke="#262626" stroke-width="0.30">2nd BNT162b2/6 weeks</text>
<line x1="1079.4" y1="949.3" x2="1124.3" y2="949.3" stroke="#8C8C8C" stroke-width="2.5" stroke-dasharray="0.01 6.2" stroke-linecap="round"/>
<circle cx="1101.8" cy="949.3" r="3.3" fill="#8F8F8F"/>
<text x="1128.5" y="954.3" font-size="14.5" text-anchor="start" font-weight="normal" fill="#262626" textLength="111.5" lengthAdjust="spacingAndGlyphs" stroke="#262626" stroke-width="0.30">BNT162b2-Boost</text>
<rect x="6" y="991.0" width="1286" height="478.0" fill="none" stroke="#1A1A1A" stroke-width="2.2"/>
<rect x="61.5" y="1049.9" width="584.5" height="386.1" fill="none" stroke="#D9D9D9" stroke-width="1.4"/>
<line x1="694.5" y1="995.5" x2="694.5" y2="1464.0" stroke="#D9D9D9" stroke-width="1.4"/>
<line x1="1246.0" y1="995.5" x2="1246.0" y2="1464.0" stroke="#D9D9D9" stroke-width="1.4"/>
<line x1="694.5" y1="995.5" x2="1246.0" y2="995.5" stroke="#D9D9D9" stroke-width="1.4"/>
<text x="26.0" y="1028.1" font-size="23.0" text-anchor="start" font-weight="normal" fill="#111" textLength="14.8" lengthAdjust="spacingAndGlyphs" stroke="#111" stroke-width="0.90">A</text>
<text x="640.8" y="1028.6" font-size="23.0" text-anchor="start" font-weight="normal" fill="#111" textLength="12.2" lengthAdjust="spacingAndGlyphs" stroke="#111" stroke-width="0.90">B</text>
<polyline points="130.8,1098.6 160.8,1074.6 612.3,1074.6" fill="none" stroke="#D9D9D9" stroke-width="1.3"/>
<text x="87.1" y="1103.4" font-size="13.8" text-anchor="start" font-weight="normal" fill="#444444" textLength="31.4" lengthAdjust="spacingAndGlyphs" stroke="#444444" stroke-width="0.35">100%</text>
<polyline points="130.8,1149.2 160.8,1125.2 612.3,1125.2" fill="none" stroke="#D9D9D9" stroke-width="1.3"/>
<text x="93.5" y="1154.0" font-size="13.8" text-anchor="start" font-weight="normal" fill="#444444" textLength="25.0" lengthAdjust="spacingAndGlyphs" stroke="#444444" stroke-width="0.35">80%</text>
<polyline points="130.8,1199.8 160.8,1175.8 612.3,1175.8" fill="none" stroke="#D9D9D9" stroke-width="1.3"/>
<text x="93.5" y="1204.6" font-size="13.8" text-anchor="start" font-weight="normal" fill="#444444" textLength="25.0" lengthAdjust="spacingAndGlyphs" stroke="#444444" stroke-width="0.35">60%</text>
<polyline points="130.8,1250.4 160.8,1226.4 612.3,1226.4" fill="none" stroke="#D9D9D9" stroke-width="1.3"/>
<text x="93.5" y="1255.2" font-size="13.8" text-anchor="start" font-weight="normal" fill="#444444" textLength="25.0" lengthAdjust="spacingAndGlyphs" stroke="#444444" stroke-width="0.35">40%</text>
<polyline points="130.8,1301.0 160.8,1277.0 612.3,1277.0" fill="none" stroke="#D9D9D9" stroke-width="1.3"/>
<text x="93.5" y="1305.8" font-size="13.8" text-anchor="start" font-weight="normal" fill="#444444" textLength="25.0" lengthAdjust="spacingAndGlyphs" stroke="#444444" stroke-width="0.35">20%</text>
<polyline points="130.8,1351.6 160.8,1327.6 612.3,1327.6" fill="none" stroke="#D9D9D9" stroke-width="1.3"/>
<text x="101.0" y="1356.4" font-size="13.8" text-anchor="start" font-weight="normal" fill="#444444" textLength="17.5" lengthAdjust="spacingAndGlyphs" stroke="#444444" stroke-width="0.35">0%</text>
<polygon points="199.2,1170.2 210.0,1160.7 210.0,1335.5 199.2,1345.0" fill="#203C80"/>
<polygon points="165.9,1170.2 176.7,1160.7 210.0,1160.7 199.2,1170.2" fill="#2B4C9E"/>
<rect x="165.9" y="1170.2" width="33.3" height="174.8" fill="#3A63C2"/>
<polygon points="232.5,1239.0 243.3,1229.5 243.3,1335.5 232.5,1345.0" fill="#9E4A16"/>
<polygon points="199.2,1239.0 210.0,1229.5 243.3,1229.5 232.5,1239.0" fill="#B5561B"/>
<rect x="199.2" y="1239.0" width="33.3" height="106.0" fill="#E9711F"/>
<polygon points="265.8,1123.1 276.6,1113.6 276.6,1335.5 265.8,1345.0" fill="#5C5C5C"/>
<polygon points="232.5,1123.1 243.3,1113.6 276.6,1113.6 265.8,1123.1" fill="#7A7A7A"/>
<rect x="232.5" y="1123.1" width="33.3" height="221.9" fill="#9D9D9D"/>
<polygon points="350.1,1313.9 360.9,1304.4 360.9,1335.5 350.1,1345.0" fill="#203C80"/>
<polygon points="316.8,1313.9 327.6,1304.4 360.9,1304.4 350.1,1313.9" fill="#2B4C9E"/>
<rect x="316.8" y="1313.9" width="33.3" height="31.1" fill="#3A63C2"/>
<polygon points="383.4,1326.8 394.2,1317.3 394.2,1335.5 383.4,1345.0" fill="#9E4A16"/>
<polygon points="350.1,1326.8 360.9,1317.3 394.2,1317.3 383.4,1326.8" fill="#B5561B"/>
<rect x="350.1" y="1326.8" width="33.3" height="18.2" fill="#E9711F"/>
<polygon points="416.7,1321.2 427.5,1311.7 427.5,1335.5 416.7,1345.0" fill="#5C5C5C"/>
<polygon points="383.4,1321.2 394.2,1311.7 427.5,1311.7 416.7,1321.2" fill="#7A7A7A"/>
<rect x="383.4" y="1321.2" width="33.3" height="23.8" fill="#9D9D9D"/>
<polygon points="501.0,1327.3 511.8,1317.8 511.8,1335.5 501.0,1345.0" fill="#203C80"/>
<polygon points="467.7,1327.3 478.5,1317.8 511.8,1317.8 501.0,1327.3" fill="#2B4C9E"/>
<rect x="467.7" y="1327.3" width="33.3" height="17.7" fill="#3A63C2"/>
<polygon points="534.3,1336.9 545.1,1327.4 545.1,1335.5 534.3,1345.0" fill="#9E4A16"/>
<polygon points="501.0,1336.9 511.8,1327.4 545.1,1327.4 534.3,1336.9" fill="#B5561B"/>
<rect x="501.0" y="1336.9" width="33.3" height="8.1" fill="#E9711F"/>
<polygon points="567.6,1335.9 578.4,1326.4 578.4,1335.5 567.6,1345.0" fill="#5C5C5C"/>
<polygon points="534.3,1335.9 545.1,1326.4 578.4,1326.4 567.6,1335.9" fill="#7A7A7A"/>
<rect x="534.3" y="1335.9" width="33.3" height="9.1" fill="#9D9D9D"/>
<polyline points="215.8,1124.7 215.8,1237.2" fill="none" stroke="#A6A6A6" stroke-width="1.4"/>
<polyline points="271.8,1109.3 249.4,1122.9" fill="none" stroke="#A6A6A6" stroke-width="1.4"/>
<polyline points="374.4,1303.1 367.0,1325.0" fill="none" stroke="#A6A6A6" stroke-width="1.4"/>
<polyline points="420.1,1306.6 402.8,1321.6" fill="none" stroke="#A6A6A6" stroke-width="1.4"/>
<polyline points="522.9,1305.4 517.1,1335.4" fill="none" stroke="#A6A6A6" stroke-width="1.4"/>
<polyline points="569.0,1322.7 550.6,1335.4" fill="none" stroke="#A6A6A6" stroke-width="1.4"/>
<text x="162.8" y="1157.8" font-size="14.6" text-anchor="start" font-weight="bold" fill="#1A1A1A" textLength="37.3" lengthAdjust="spacingAndGlyphs">69.1%</text>
<text x="196.3" y="1117.0" font-size="14.6" text-anchor="start" font-weight="bold" fill="#1A1A1A" textLength="37.7" lengthAdjust="spacingAndGlyphs">41.9%</text>
<text x="252.5" y="1102.7" font-size="14.6" text-anchor="start" font-weight="bold" fill="#1A1A1A" textLength="37.8" lengthAdjust="spacingAndGlyphs">87.7%</text>
<text x="312.3" y="1302.7" font-size="14.6" text-anchor="start" font-weight="bold" fill="#1A1A1A" textLength="38.6" lengthAdjust="spacingAndGlyphs">12.3%</text>
<text x="357.7" y="1296.0" font-size="14.6" text-anchor="start" font-weight="bold" fill="#1A1A1A" textLength="30.5" lengthAdjust="spacingAndGlyphs">7.2%</text>
<text x="406.4" y="1300.5" font-size="14.6" text-anchor="start" font-weight="bold" fill="#1A1A1A" textLength="30.0" lengthAdjust="spacingAndGlyphs">9.4%</text>
<text x="468.2" y="1315.0" font-size="14.6" text-anchor="start" font-weight="bold" fill="#1A1A1A" textLength="29.1" lengthAdjust="spacingAndGlyphs">7.0%</text>
<text x="507.7" y="1302.7" font-size="14.6" text-anchor="start" font-weight="bold" fill="#1A1A1A" textLength="28.7" lengthAdjust="spacingAndGlyphs">3.2%</text>
<text x="553.2" y="1317.3" font-size="14.6" text-anchor="start" font-weight="bold" fill="#1A1A1A" textLength="29.5" lengthAdjust="spacingAndGlyphs">3.6%</text>
<text x="165.5" y="1376.3" font-size="13.0" text-anchor="start" font-weight="normal" fill="#262626" textLength="83.1" lengthAdjust="spacingAndGlyphs" stroke="#262626" stroke-width="0.25">Swelling/Pain</text>
<text x="332.7" y="1376.3" font-size="13.0" text-anchor="start" font-weight="normal" fill="#262626" textLength="49.1" lengthAdjust="spacingAndGlyphs" stroke="#262626" stroke-width="0.25">Redness</text>
<text x="497.3" y="1376.3" font-size="13.0" text-anchor="start" font-weight="normal" fill="#262626" textLength="21.7" lengthAdjust="spacingAndGlyphs" stroke="#262626" stroke-width="0.25">Itch</text>
<rect x="141.3" y="1407.9" width="7" height="7" fill="#3A63C2"/>
<text x="151.0" y="1415.9" font-size="13.0" text-anchor="start" font-weight="normal" fill="#262626" textLength="91.7" lengthAdjust="spacingAndGlyphs" stroke="#262626" stroke-width="0.25">1st ChAdOx1-S</text>
<rect x="264.8" y="1407.9" width="7" height="7" fill="#E9711F"/>
<text x="277.3" y="1415.9" font-size="13.0" text-anchor="start" font-weight="normal" fill="#262626" textLength="156.3" lengthAdjust="spacingAndGlyphs" stroke="#262626" stroke-width="0.25">2nd ChAdOx1-S/12 weeks</text>
<rect x="458.0" y="1407.9" width="7" height="7" fill="#9D9D9D"/>
<text x="469.0" y="1415.9" font-size="13.0" text-anchor="start" font-weight="normal" fill="#262626" textLength="102.4" lengthAdjust="spacingAndGlyphs" stroke="#262626" stroke-width="0.25">BNT162b2-Boost</text>
<text transform="translate(50.1,1244.0) rotate(-90)" font-size="25" text-anchor="middle" fill="#111" stroke="#111" stroke-width="0.8" textLength="151.5" lengthAdjust="spacingAndGlyphs">Cohort AA-12</text>
<polygon points="970.0,1164.2 994.4,1171.3 1009.5,1190.0 1009.5,1213.0 994.4,1231.7 970.0,1238.8 945.6,1231.7 930.5,1213.0 930.5,1190.0 945.6,1171.3" fill="none" stroke="#D9D9D9" stroke-width="1.3"/>
<polygon points="970.0,1126.9 1018.8,1141.1 1049.0,1178.4 1049.0,1224.6 1018.8,1261.9 970.0,1276.1 921.2,1261.9 891.0,1224.6 891.0,1178.4 921.2,1141.1" fill="none" stroke="#D9D9D9" stroke-width="1.3"/>
<polygon points="970.0,1089.6 1043.3,1111.0 1088.5,1166.9 1088.5,1236.1 1043.3,1292.0 970.0,1313.4 896.7,1292.0 851.5,1236.1 851.5,1166.9 896.7,1111.0" fill="none" stroke="#D9D9D9" stroke-width="1.3"/>
<polygon points="970.0,1052.3 1067.7,1080.8 1128.1,1155.4 1128.1,1247.6 1067.7,1322.2 970.0,1350.7 872.3,1322.2 811.9,1247.6 811.9,1155.4 872.3,1080.8" fill="none" stroke="#D9D9D9" stroke-width="1.3"/>
<text x="933.9" y="1207.0" font-size="14.5" text-anchor="start" font-weight="normal" fill="#505050" textLength="19.5" lengthAdjust="spacingAndGlyphs" stroke="#505050" stroke-width="0.30">0%</text>
<text x="925.5" y="1169.7" font-size="14.5" text-anchor="start" font-weight="normal" fill="#505050" textLength="27.9" lengthAdjust="spacingAndGlyphs" stroke="#505050" stroke-width="0.30">20%</text>
<text x="925.5" y="1132.4" font-size="14.5" text-anchor="start" font-weight="normal" fill="#505050" textLength="27.9" lengthAdjust="spacingAndGlyphs" stroke="#505050" stroke-width="0.30">40%</text>
<text x="925.5" y="1095.1" font-size="14.5" text-anchor="start" font-weight="normal" fill="#505050" textLength="27.9" lengthAdjust="spacingAndGlyphs" stroke="#505050" stroke-width="0.30">60%</text>
<text x="925.5" y="1057.8" font-size="14.5" text-anchor="start" font-weight="normal" fill="#505050" textLength="27.9" lengthAdjust="spacingAndGlyphs" stroke="#505050" stroke-width="0.30">80%</text>
<text x="945.9" y="1040.3" font-size="14.5" text-anchor="start" font-weight="bold" fill="#404040" textLength="47.8" lengthAdjust="spacingAndGlyphs">Fatigue</text>
<text x="1072.0" y="1079.8" font-size="14.5" text-anchor="start" font-weight="bold" fill="#404040" textLength="51.7" lengthAdjust="spacingAndGlyphs">Malaise</text>
<text x="1134.3" y="1158.2" font-size="14.5" text-anchor="start" font-weight="bold" fill="#404040" textLength="49.6" lengthAdjust="spacingAndGlyphs">Nausea</text>
<text x="1134.3" y="1253.6" font-size="14.5" text-anchor="start" font-weight="bold" fill="#404040" textLength="65.7" lengthAdjust="spacingAndGlyphs">Headache</text>
<text x="1072.0" y="1330.7" font-size="14.5" text-anchor="start" font-weight="bold" fill="#404040" textLength="52.6" lengthAdjust="spacingAndGlyphs">Myalgia</text>
<text x="937.6" y="1371.1" font-size="14.5" text-anchor="start" font-weight="bold" fill="#404040" textLength="64.4" lengthAdjust="spacingAndGlyphs">Joint Pain</text>
<text x="806.8" y="1330.7" font-size="14.5" text-anchor="start" font-weight="bold" fill="#404040" textLength="60.6" lengthAdjust="spacingAndGlyphs">Insomnia</text>
<text x="726.3" y="1253.6" font-size="14.5" text-anchor="start" font-weight="bold" fill="#404040" textLength="78.7" lengthAdjust="spacingAndGlyphs">Fever/Chills</text>
<text x="714.8" y="1158.2" font-size="14.5" text-anchor="start" font-weight="bold" fill="#404040" textLength="89.0" lengthAdjust="spacingAndGlyphs">Lymph Nodes</text>
<text x="811.0" y="1079.8" font-size="14.5" text-anchor="start" font-weight="bold" fill="#404040" textLength="57.2" lengthAdjust="spacingAndGlyphs">Dyspnea</text>
<polygon points="970.0,1090.0 1008.7,1153.7 997.7,1193.4 1080.4,1233.7 1023.6,1267.7 970.0,1277.0 950.5,1225.6 873.2,1229.7 960.1,1198.6 966.3,1197.0" fill="none" stroke="#1F46B4" stroke-width="2.7" stroke-dasharray="0.01 5.4" stroke-linecap="round" stroke-linejoin="round"/>
<circle cx="970.0" cy="1090.0" r="5.0" fill="#2250C0"/>
<circle cx="1008.7" cy="1153.7" r="5.0" fill="#2250C0"/>
<circle cx="997.7" cy="1193.4" r="5.0" fill="#2250C0"/>
<circle cx="1080.4" cy="1233.7" r="5.0" fill="#2250C0"/>
<circle cx="1023.6" cy="1267.7" r="5.0" fill="#2250C0"/>
<circle cx="970.0" cy="1277.0" r="5.0" fill="#2250C0"/>
<circle cx="950.5" cy="1225.6" r="5.0" fill="#2250C0"/>
<circle cx="873.2" cy="1229.7" r="5.0" fill="#2250C0"/>
<circle cx="960.1" cy="1198.6" r="5.0" fill="#2250C0"/>
<circle cx="966.3" cy="1197.0" r="5.0" fill="#2250C0"/>
<polygon points="970.0,1148.5 980.5,1188.5 977.5,1199.3 1006.0,1212.0 979.6,1213.4 970.0,1217.5 967.6,1204.5 959.1,1204.7 964.1,1199.8 967.6,1198.5" fill="none" stroke="#E36A1E" stroke-width="2.7" stroke-dasharray="0.01 5.4" stroke-linecap="round" stroke-linejoin="round"/>
<circle cx="970.0" cy="1148.5" r="5.0" fill="#EB6C1E"/>
<circle cx="980.5" cy="1188.5" r="5.0" fill="#EB6C1E"/>
<circle cx="977.5" cy="1199.3" r="5.0" fill="#EB6C1E"/>
<circle cx="1006.0" cy="1212.0" r="5.0" fill="#EB6C1E"/>
<circle cx="979.6" cy="1213.4" r="5.0" fill="#EB6C1E"/>
<circle cx="970.0" cy="1217.5" r="5.0" fill="#EB6C1E"/>
<circle cx="967.6" cy="1204.5" r="5.0" fill="#EB6C1E"/>
<circle cx="959.1" cy="1204.7" r="5.0" fill="#EB6C1E"/>
<circle cx="964.1" cy="1199.8" r="5.0" fill="#EB6C1E"/>
<circle cx="967.6" cy="1198.5" r="5.0" fill="#EB6C1E"/>
<polygon points="970.0,1116.8 1000.5,1163.8 983.4,1197.6 1020.0,1216.1 1000.2,1238.8 970.0,1248.1 967.6,1204.5 952.0,1206.7 952.2,1196.3 963.9,1194.0" fill="none" stroke="#8C8C8C" stroke-width="2.7" stroke-dasharray="0.01 5.4" stroke-linecap="round" stroke-linejoin="round"/>
<circle cx="970.0" cy="1116.8" r="5.0" fill="#8F8F8F"/>
<circle cx="1000.5" cy="1163.8" r="5.0" fill="#8F8F8F"/>
<circle cx="983.4" cy="1197.6" r="5.0" fill="#8F8F8F"/>
<circle cx="1020.0" cy="1216.1" r="5.0" fill="#8F8F8F"/>
<circle cx="1000.2" cy="1238.8" r="5.0" fill="#8F8F8F"/>
<circle cx="970.0" cy="1248.1" r="5.0" fill="#8F8F8F"/>
<circle cx="967.6" cy="1204.5" r="5.0" fill="#8F8F8F"/>
<circle cx="952.0" cy="1206.7" r="5.0" fill="#8F8F8F"/>
<circle cx="952.2" cy="1196.3" r="5.0" fill="#8F8F8F"/>
<circle cx="963.9" cy="1194.0" r="5.0" fill="#8F8F8F"/>
<line x1="702.0" y1="1443.8" x2="745.8" y2="1443.8" stroke="#1F46B4" stroke-width="2.5" stroke-dasharray="0.01 6.2" stroke-linecap="round"/>
<circle cx="723.9" cy="1443.8" r="3.3" fill="#2250C0"/>
<text x="751.7" y="1448.8" font-size="14.5" text-anchor="start" font-weight="normal" fill="#262626" textLength="97.5" lengthAdjust="spacingAndGlyphs" stroke="#262626" stroke-width="0.30">1st ChAdOx1-S</text>
<line x1="853.4" y1="1443.8" x2="899.2" y2="1443.8" stroke="#E36A1E" stroke-width="2.5" stroke-dasharray="0.01 6.2" stroke-linecap="round"/>
<circle cx="876.3" cy="1443.8" r="3.3" fill="#EB6C1E"/>
<text x="905.5" y="1448.8" font-size="14.5" text-anchor="start" font-weight="normal" fill="#262626" textLength="170.8" lengthAdjust="spacingAndGlyphs" stroke="#262626" stroke-width="0.30">2nd ChAdOx1-S/12 weeks</text>
<line x1="1083.5" y1="1443.8" x2="1128.0" y2="1443.8" stroke="#8C8C8C" stroke-width="2.5" stroke-dasharray="0.01 6.2" stroke-linecap="round"/>
<circle cx="1105.8" cy="1443.8" r="3.3" fill="#8F8F8F"/>
<text x="1134.3" y="1448.8" font-size="14.5" text-anchor="start" font-weight="normal" fill="#262626" textLength="110.2" lengthAdjust="spacingAndGlyphs" stroke="#262626" stroke-width="0.30">BNT162b2-Boost</text>
<rect x="6" y="1488.0" width="1286" height="477.5" fill="none" stroke="#1A1A1A" stroke-width="2.2"/>
<rect x="68.9" y="1543.5" width="578.8" height="386.5" fill="none" stroke="#D9D9D9" stroke-width="1.4"/>
<line x1="693.8" y1="1490.0" x2="693.8" y2="1959.8" stroke="#D9D9D9" stroke-width="1.4"/>
<line x1="1246.0" y1="1490.0" x2="1246.0" y2="1959.8" stroke="#D9D9D9" stroke-width="1.4"/>
<line x1="693.8" y1="1959.8" x2="1246.0" y2="1959.8" stroke="#D9D9D9" stroke-width="1.4"/>
<text x="26.0" y="1524.0" font-size="23.0" text-anchor="start" font-weight="normal" fill="#111" textLength="14.8" lengthAdjust="spacingAndGlyphs" stroke="#111" stroke-width="0.90">A</text>
<text x="640.8" y="1524.3" font-size="23.0" text-anchor="start" font-weight="normal" fill="#111" textLength="12.2" lengthAdjust="spacingAndGlyphs" stroke="#111" stroke-width="0.90">B</text>
<polyline points="137.7,1592.2 167.0,1567.7 614.5,1567.7" fill="none" stroke="#D9D9D9" stroke-width="1.3"/>
<text x="93.6" y="1597.0" font-size="13.8" text-anchor="start" font-weight="normal" fill="#444444" textLength="31.4" lengthAdjust="spacingAndGlyphs" stroke="#444444" stroke-width="0.35">100%</text>
<polyline points="137.7,1643.1 167.0,1618.6 614.5,1618.6" fill="none" stroke="#D9D9D9" stroke-width="1.3"/>
<text x="100.0" y="1647.9" font-size="13.8" text-anchor="start" font-weight="normal" fill="#444444" textLength="25.0" lengthAdjust="spacingAndGlyphs" stroke="#444444" stroke-width="0.35">80%</text>
<polyline points="137.7,1694.0 167.0,1669.5 614.5,1669.5" fill="none" stroke="#D9D9D9" stroke-width="1.3"/>
<text x="100.0" y="1698.8" font-size="13.8" text-anchor="start" font-weight="normal" fill="#444444" textLength="25.0" lengthAdjust="spacingAndGlyphs" stroke="#444444" stroke-width="0.35">60%</text>
<polyline points="137.7,1744.9 167.0,1720.4 614.5,1720.4" fill="none" stroke="#D9D9D9" stroke-width="1.3"/>
<text x="100.0" y="1749.7" font-size="13.8" text-anchor="start" font-weight="normal" fill="#444444" textLength="25.0" lengthAdjust="spacingAndGlyphs" stroke="#444444" stroke-width="0.35">40%</text>
<polyline points="137.7,1795.8 167.0,1771.3 614.5,1771.3" fill="none" stroke="#D9D9D9" stroke-width="1.3"/>
<text x="100.0" y="1800.6" font-size="13.8" text-anchor="start" font-weight="normal" fill="#444444" textLength="25.0" lengthAdjust="spacingAndGlyphs" stroke="#444444" stroke-width="0.35">20%</text>
<polyline points="137.7,1846.7 167.0,1822.2 614.5,1822.2" fill="none" stroke="#D9D9D9" stroke-width="1.3"/>
<text x="107.5" y="1851.5" font-size="13.8" text-anchor="start" font-weight="normal" fill="#444444" textLength="17.5" lengthAdjust="spacingAndGlyphs" stroke="#444444" stroke-width="0.35">0%</text>
<polygon points="205.4,1648.2 216.2,1638.7 216.2,1829.5 205.4,1839.0" fill="#203C80"/>
<polygon points="172.4,1648.2 183.2,1638.7 216.2,1638.7 205.4,1648.2" fill="#2B4C9E"/>
<rect x="172.4" y="1648.2" width="33.0" height="190.8" fill="#3A63C2"/>
<polygon points="238.4,1648.5 249.2,1639.0 249.2,1829.5 238.4,1839.0" fill="#9E4A16"/>
<polygon points="205.4,1648.5 216.2,1639.0 249.2,1639.0 238.4,1648.5" fill="#B5561B"/>
<rect x="205.4" y="1648.5" width="33.0" height="190.5" fill="#E9711F"/>
<polygon points="271.4,1609.0 282.2,1599.5 282.2,1829.5 271.4,1839.0" fill="#5C5C5C"/>
<polygon points="238.4,1609.0 249.2,1599.5 282.2,1599.5 271.4,1609.0" fill="#7A7A7A"/>
<rect x="238.4" y="1609.0" width="33.0" height="230.0" fill="#9D9D9D"/>
<polygon points="355.7,1811.2 366.5,1801.7 366.5,1829.5 355.7,1839.0" fill="#203C80"/>
<polygon points="322.7,1811.2 333.5,1801.7 366.5,1801.7 355.7,1811.2" fill="#2B4C9E"/>
<rect x="322.7" y="1811.2" width="33.0" height="27.8" fill="#3A63C2"/>
<polygon points="388.7,1802.6 399.5,1793.1 399.5,1829.5 388.7,1839.0" fill="#9E4A16"/>
<polygon points="355.7,1802.6 366.5,1793.1 399.5,1793.1 388.7,1802.6" fill="#B5561B"/>
<rect x="355.7" y="1802.6" width="33.0" height="36.4" fill="#E9711F"/>
<polygon points="421.7,1827.6 432.5,1818.1 432.5,1829.5 421.7,1839.0" fill="#5C5C5C"/>
<polygon points="388.7,1827.6 399.5,1818.1 432.5,1818.1 421.7,1827.6" fill="#7A7A7A"/>
<rect x="388.7" y="1827.6" width="33.0" height="11.4" fill="#9D9D9D"/>
<polygon points="504.4,1819.8 515.2,1810.3 515.2,1829.5 504.4,1839.0" fill="#203C80"/>
<polygon points="471.4,1819.8 482.2,1810.3 515.2,1810.3 504.4,1819.8" fill="#2B4C9E"/>
<rect x="471.4" y="1819.8" width="33.0" height="19.2" fill="#3A63C2"/>
<polygon points="537.4,1823.1 548.2,1813.6 548.2,1829.5 537.4,1839.0" fill="#9E4A16"/>
<polygon points="504.4,1823.1 515.2,1813.6 548.2,1813.6 537.4,1823.1" fill="#B5561B"/>
<rect x="504.4" y="1823.1" width="33.0" height="15.9" fill="#E9711F"/>
<polygon points="570.4,1835.2 581.2,1825.7 581.2,1829.5 570.4,1839.0" fill="#5C5C5C"/>
<polygon points="537.4,1835.2 548.2,1825.7 581.2,1825.7 570.4,1835.2" fill="#7A7A7A"/>
<rect x="537.4" y="1835.2" width="33.0" height="3.8" fill="#9D9D9D"/>
<polyline points="225.5,1610.8 221.7,1647.1" fill="none" stroke="#A6A6A6" stroke-width="1.4"/>
<polyline points="264.0,1584.7 257.1,1584.7 255.3,1608.5" fill="none" stroke="#A6A6A6" stroke-width="1.4"/>
<polyline points="377.4,1779.6 372.7,1801.6" fill="none" stroke="#A6A6A6" stroke-width="1.4"/>
<polyline points="421.2,1797.0 406.2,1825.8" fill="none" stroke="#A6A6A6" stroke-width="1.4"/>
<polyline points="484.8,1801.6 487.1,1817.7" fill="none" stroke="#A6A6A6" stroke-width="1.4"/>
<polyline points="524.0,1807.3 520.6,1821.2" fill="none" stroke="#A6A6A6" stroke-width="1.4"/>
<polyline points="574.8,1816.6 555.2,1833.9" fill="none" stroke="#A6A6A6" stroke-width="1.4"/>
<text x="169.6" y="1634.7" font-size="14.6" text-anchor="start" font-weight="bold" fill="#1A1A1A" textLength="36.7" lengthAdjust="spacingAndGlyphs">75.4%</text>
<text x="206.3" y="1603.3" font-size="14.6" text-anchor="start" font-weight="bold" fill="#1A1A1A" textLength="37.0" lengthAdjust="spacingAndGlyphs">75.3%</text>
<text x="267.6" y="1591.6" font-size="14.6" text-anchor="start" font-weight="bold" fill="#1A1A1A" textLength="37.3" lengthAdjust="spacingAndGlyphs">90.9%</text>
<text x="319.0" y="1797.7" font-size="14.6" text-anchor="start" font-weight="bold" fill="#1A1A1A" textLength="37.4" lengthAdjust="spacingAndGlyphs">11.0%</text>
<text x="359.0" y="1772.7" font-size="14.6" text-anchor="start" font-weight="bold" fill="#1A1A1A" textLength="37.4" lengthAdjust="spacingAndGlyphs">14.4%</text>
<text x="407.7" y="1789.5" font-size="14.6" text-anchor="start" font-weight="bold" fill="#1A1A1A" textLength="28.7" lengthAdjust="spacingAndGlyphs">4.5%</text>
<text x="469.0" y="1794.5" font-size="14.6" text-anchor="start" font-weight="bold" fill="#1A1A1A" textLength="29.6" lengthAdjust="spacingAndGlyphs">7.6%</text>
<text x="510.0" y="1799.0" font-size="14.6" text-anchor="start" font-weight="bold" fill="#1A1A1A" textLength="29.5" lengthAdjust="spacingAndGlyphs">6.3%</text>
<text x="560.0" y="1807.7" font-size="14.6" text-anchor="start" font-weight="bold" fill="#1A1A1A" textLength="29.5" lengthAdjust="spacingAndGlyphs">1.5%</text>
<text x="171.4" y="1870.0" font-size="13.0" text-anchor="start" font-weight="normal" fill="#262626" textLength="83.1" lengthAdjust="spacingAndGlyphs" stroke="#262626" stroke-width="0.25">Swelling/Pain</text>
<text x="338.0" y="1870.0" font-size="13.0" text-anchor="start" font-weight="normal" fill="#262626" textLength="48.4" lengthAdjust="spacingAndGlyphs" stroke="#262626" stroke-width="0.25">Redness</text>
<text x="501.0" y="1870.0" font-size="13.0" text-anchor="start" font-weight="normal" fill="#262626" textLength="22.6" lengthAdjust="spacingAndGlyphs" stroke="#262626" stroke-width="0.25">Itch</text>
<rect x="151.3" y="1900.5" width="7" height="7" fill="#3A63C2"/>
<text x="161.0" y="1908.5" font-size="13.0" text-anchor="start" font-weight="normal" fill="#262626" textLength="90.0" lengthAdjust="spacingAndGlyphs" stroke="#262626" stroke-width="0.25">1st ChAdOx1-S</text>
<rect x="273.9" y="1900.5" width="7" height="7" fill="#E9711F"/>
<text x="285.0" y="1908.5" font-size="13.0" text-anchor="start" font-weight="normal" fill="#262626" textLength="151.4" lengthAdjust="spacingAndGlyphs" stroke="#262626" stroke-width="0.25">2nd BNT162b2/12 weeks</text>
<rect x="462.6" y="1900.5" width="7" height="7" fill="#9D9D9D"/>
<text x="471.4" y="1908.5" font-size="13.0" text-anchor="start" font-weight="normal" fill="#262626" textLength="100.0" lengthAdjust="spacingAndGlyphs" stroke="#262626" stroke-width="0.25">BNT162b2-Boost</text>
<text transform="translate(50.1,1744.0) rotate(-90)" font-size="25" text-anchor="middle" fill="#111" stroke="#111" stroke-width="0.8" textLength="150.5" lengthAdjust="spacingAndGlyphs">Cohort AB-12</text>
<polygon points="969.8,1654.6 994.3,1661.7 1009.4,1680.3 1009.4,1703.2 994.3,1721.8 969.8,1728.9 945.2,1721.8 930.1,1703.2 930.1,1680.3 945.2,1661.7" fill="none" stroke="#D9D9D9" stroke-width="1.3"/>
<polygon points="969.8,1617.4 1018.8,1631.6 1049.1,1668.8 1049.1,1714.7 1018.8,1751.9 969.8,1766.1 920.7,1751.9 890.4,1714.7 890.4,1668.8 920.7,1631.6" fill="none" stroke="#D9D9D9" stroke-width="1.3"/>
<polygon points="969.8,1580.2 1043.3,1601.5 1088.7,1657.3 1088.7,1726.2 1043.3,1782.0 969.8,1803.3 896.2,1782.0 850.8,1726.2 850.8,1657.3 896.2,1601.5" fill="none" stroke="#D9D9D9" stroke-width="1.3"/>
<polygon points="969.8,1543.0 1067.8,1571.4 1128.4,1645.8 1128.4,1737.7 1067.8,1812.1 969.8,1840.5 871.7,1812.1 811.1,1737.7 811.1,1645.8 871.7,1571.4" fill="none" stroke="#D9D9D9" stroke-width="1.3"/>
<text x="933.9" y="1697.3" font-size="14.5" text-anchor="start" font-weight="normal" fill="#505050" textLength="19.5" lengthAdjust="spacingAndGlyphs" stroke="#505050" stroke-width="0.30">0%</text>
<text x="925.5" y="1660.1" font-size="14.5" text-anchor="start" font-weight="normal" fill="#505050" textLength="27.9" lengthAdjust="spacingAndGlyphs" stroke="#505050" stroke-width="0.30">20%</text>
<text x="925.5" y="1622.9" font-size="14.5" text-anchor="start" font-weight="normal" fill="#505050" textLength="27.9" lengthAdjust="spacingAndGlyphs" stroke="#505050" stroke-width="0.30">40%</text>
<text x="925.5" y="1585.7" font-size="14.5" text-anchor="start" font-weight="normal" fill="#505050" textLength="27.9" lengthAdjust="spacingAndGlyphs" stroke="#505050" stroke-width="0.30">60%</text>
<text x="925.5" y="1548.5" font-size="14.5" text-anchor="start" font-weight="normal" fill="#505050" textLength="27.9" lengthAdjust="spacingAndGlyphs" stroke="#505050" stroke-width="0.30">80%</text>
<text x="945.9" y="1530.9" font-size="14.5" text-anchor="start" font-weight="bold" fill="#404040" textLength="47.8" lengthAdjust="spacingAndGlyphs">Fatigue</text>
<text x="1072.0" y="1570.7" font-size="14.5" text-anchor="start" font-weight="bold" fill="#404040" textLength="51.7" lengthAdjust="spacingAndGlyphs">Malaise</text>
<text x="1134.3" y="1649.0" font-size="14.5" text-anchor="start" font-weight="bold" fill="#404040" textLength="49.6" lengthAdjust="spacingAndGlyphs">Nausea</text>
<text x="1134.3" y="1744.4" font-size="14.5" text-anchor="start" font-weight="bold" fill="#404040" textLength="65.7" lengthAdjust="spacingAndGlyphs">Headache</text>
<text x="1072.0" y="1822.0" font-size="14.5" text-anchor="start" font-weight="bold" fill="#404040" textLength="52.6" lengthAdjust="spacingAndGlyphs">Myalgia</text>
<text x="937.6" y="1861.3" font-size="14.5" text-anchor="start" font-weight="bold" fill="#404040" textLength="64.4" lengthAdjust="spacingAndGlyphs">Joint Pain</text>
<text x="806.8" y="1822.0" font-size="14.5" text-anchor="start" font-weight="bold" fill="#404040" textLength="60.6" lengthAdjust="spacingAndGlyphs">Insomnia</text>
<text x="726.3" y="1744.4" font-size="14.5" text-anchor="start" font-weight="bold" fill="#404040" textLength="78.7" lengthAdjust="spacingAndGlyphs">Fever/Chills</text>
<text x="714.8" y="1649.0" font-size="14.5" text-anchor="start" font-weight="bold" fill="#404040" textLength="89.0" lengthAdjust="spacingAndGlyphs">Lymph Nodes</text>
<text x="811.0" y="1570.7" font-size="14.5" text-anchor="start" font-weight="bold" fill="#404040" textLength="57.2" lengthAdjust="spacingAndGlyphs">Dyspnea</text>
<polygon points="969.8,1553.0 1018.9,1631.4 1000.1,1683.0 1094.3,1727.8 1029.9,1765.6 969.8,1761.8 949.8,1716.3 866.2,1721.7 963.8,1690.0 967.9,1689.5" fill="none" stroke="#1F46B4" stroke-width="2.7" stroke-dasharray="0.01 5.4" stroke-linecap="round" stroke-linejoin="round"/>
<circle cx="969.8" cy="1553.0" r="5.0" fill="#2250C0"/>
<circle cx="1018.9" cy="1631.4" r="5.0" fill="#2250C0"/>
<circle cx="1000.1" cy="1683.0" r="5.0" fill="#2250C0"/>
<circle cx="1094.3" cy="1727.8" r="5.0" fill="#2250C0"/>
<circle cx="1029.9" cy="1765.6" r="5.0" fill="#2250C0"/>
<circle cx="969.8" cy="1761.8" r="5.0" fill="#2250C0"/>
<circle cx="949.8" cy="1716.3" r="5.0" fill="#2250C0"/>
<circle cx="866.2" cy="1721.7" r="5.0" fill="#2250C0"/>
<circle cx="963.8" cy="1690.0" r="5.0" fill="#2250C0"/>
<circle cx="967.9" cy="1689.5" r="5.0" fill="#2250C0"/>
<polygon points="969.8,1593.9 998.9,1655.9 973.7,1690.6 1037.2,1711.3 1005.8,1736.0 969.8,1723.7 963.6,1699.3 940.4,1700.3 953.3,1687.0 967.3,1688.7" fill="none" stroke="#E36A1E" stroke-width="2.7" stroke-dasharray="0.01 5.4" stroke-linecap="round" stroke-linejoin="round"/>
<circle cx="969.8" cy="1593.9" r="5.0" fill="#EB6C1E"/>
<circle cx="998.9" cy="1655.9" r="5.0" fill="#EB6C1E"/>
<circle cx="973.7" cy="1690.6" r="5.0" fill="#EB6C1E"/>
<circle cx="1037.2" cy="1711.3" r="5.0" fill="#EB6C1E"/>
<circle cx="1005.8" cy="1736.0" r="5.0" fill="#EB6C1E"/>
<circle cx="969.8" cy="1723.7" r="5.0" fill="#EB6C1E"/>
<circle cx="963.6" cy="1699.3" r="5.0" fill="#EB6C1E"/>
<circle cx="940.4" cy="1700.3" r="5.0" fill="#EB6C1E"/>
<circle cx="953.3" cy="1687.0" r="5.0" fill="#EB6C1E"/>
<circle cx="967.3" cy="1688.7" r="5.0" fill="#EB6C1E"/>
<polygon points="969.8,1603.8 993.5,1662.6 981.6,1688.3 1051.1,1715.3 1002.1,1731.5 969.8,1695.5 960.4,1703.2 945.4,1698.8 959.8,1688.9 966.1,1687.2" fill="none" stroke="#8C8C8C" stroke-width="2.7" stroke-dasharray="0.01 5.4" stroke-linecap="round" stroke-linejoin="round"/>
<circle cx="969.8" cy="1603.8" r="5.0" fill="#8F8F8F"/>
<circle cx="993.5" cy="1662.6" r="5.0" fill="#8F8F8F"/>
<circle cx="981.6" cy="1688.3" r="5.0" fill="#8F8F8F"/>
<circle cx="1051.1" cy="1715.3" r="5.0" fill="#8F8F8F"/>
<circle cx="1002.1" cy="1731.5" r="5.0" fill="#8F8F8F"/>
<circle cx="969.8" cy="1695.5" r="5.0" fill="#8F8F8F"/>
<circle cx="960.4" cy="1703.2" r="5.0" fill="#8F8F8F"/>
<circle cx="945.4" cy="1698.8" r="5.0" fill="#8F8F8F"/>
<circle cx="959.8" cy="1688.9" r="5.0" fill="#8F8F8F"/>
<circle cx="966.1" cy="1687.2" r="5.0" fill="#8F8F8F"/>
<line x1="702.0" y1="1934.0" x2="746.6" y2="1934.0" stroke="#1F46B4" stroke-width="2.5" stroke-dasharray="0.01 6.2" stroke-linecap="round"/>
<circle cx="724.3" cy="1934.0" r="3.3" fill="#2250C0"/>
<text x="751.7" y="1939.0" font-size="14.5" text-anchor="start" font-weight="normal" fill="#262626" textLength="97.5" lengthAdjust="spacingAndGlyphs" stroke="#262626" stroke-width="0.30">1st ChAdOx1-S</text>
<line x1="856.0" y1="1934.0" x2="901.3" y2="1934.0" stroke="#E36A1E" stroke-width="2.5" stroke-dasharray="0.01 6.2" stroke-linecap="round"/>
<circle cx="878.6" cy="1934.0" r="3.3" fill="#EB6C1E"/>
<text x="907.6" y="1939.0" font-size="14.5" text-anchor="start" font-weight="normal" fill="#262626" textLength="167.4" lengthAdjust="spacingAndGlyphs" stroke="#262626" stroke-width="0.30">2nd BNT162b2/12 weeks</text>
<line x1="1081.4" y1="1934.0" x2="1128.0" y2="1934.0" stroke="#8C8C8C" stroke-width="2.5" stroke-dasharray="0.01 6.2" stroke-linecap="round"/>
<circle cx="1104.7" cy="1934.0" r="3.3" fill="#8F8F8F"/>
<text x="1133.0" y="1939.0" font-size="14.5" text-anchor="start" font-weight="normal" fill="#262626" textLength="110.2" lengthAdjust="spacingAndGlyphs" stroke="#262626" stroke-width="0.30">BNT162b2-Boost</text>
</svg>
</body></html>
